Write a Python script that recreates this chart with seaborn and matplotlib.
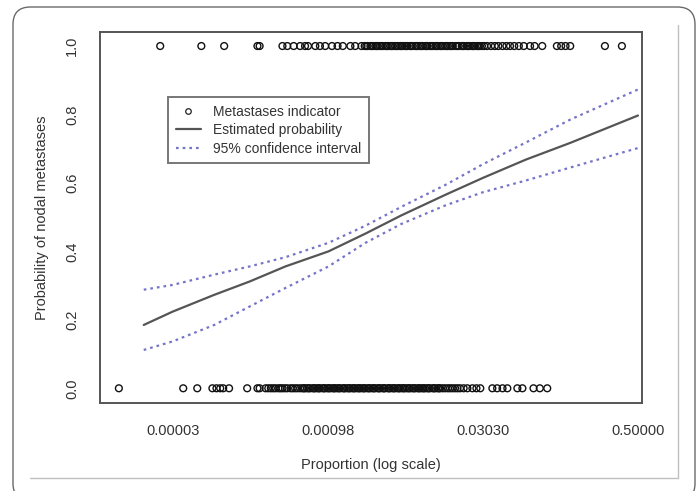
# Logistic fit of nodal metastases vs proportion (logit-scaled x axis)

import pandas as pd
import numpy as np
import matplotlib
matplotlib.use('Agg')
import matplotlib.pyplot as plt
from matplotlib.lines import Line2D
from matplotlib.patches import FancyBboxPatch
from matplotlib.ticker import NullLocator, FixedLocator, FixedFormatter
import seaborn as sns

# observed proportions, metastases = 0
absent = [9.0e-6, 3.8e-5, 5.2e-5, 7.3e-5, 8.0e-5, 8.7e-5, 9.3e-5, 1.06e-4, 1.59e-4, 2.0e-4, 2.1e-4,
          2.4e-4, 2.55e-4, 2.7e-4, 2.85e-4, 3.0e-4, 3.2e-4, 3.35e-4, 3.5e-4, 3.7e-4, 3.9e-4, 4.2e-4,
          4.4e-4, 4.65e-4, 4.9e-4, 5.2e-4, 5.5e-4, 5.8e-4, 6.1e-4, 6.5e-4, 6.9e-4, 7.3e-4, 7.7e-4,
          8.1e-4, 8.6e-4, 9.1e-4, 9.6e-4, 1.02e-3, 1.08e-3, 1.14e-3, 1.2e-3, 1.27e-3, 1.35e-3,
          1.42e-3, 1.5e-3, 1.59e-3, 1.68e-3, 1.78e-3, 1.88e-3, 1.99e-3, 2.1e-3, 2.22e-3, 2.35e-3,
          2.49e-3, 2.63e-3, 2.78e-3, 2.95e-3, 3.11e-3, 3.3e-3, 3.47e-3, 3.7e-3, 3.88e-3, 4.1e-3,
          4.34e-3, 4.6e-3, 4.85e-3, 5.1e-3, 5.42e-3, 5.7e-3, 6.06e-3, 6.4e-3, 6.8e-3, 7.2e-3,
          7.6e-3, 8.0e-3, 8.45e-3, 8.9e-3, 9.4e-3, 0.0100, 0.0106, 0.0112, 0.0118, 0.0125,
          0.0132, 0.0140, 0.0147, 0.0155, 0.0164, 0.0173, 0.0183,
          5.65e-4, 6.3e-4, 7.1e-4, 7.9e-4, 8.85e-4, 9.9e-4, 1.11e-3, 1.24e-3, 1.39e-3, 1.55e-3,
          1.73e-3, 1.94e-3, 2.16e-3, 2.42e-3, 2.7e-3, 3.03e-3, 3.38e-3, 3.79e-3, 4.22e-3, 4.72e-3,
          5.25e-3, 5.9e-3, 6.6e-3, 7.4e-3, 8.2e-3, 9.15e-3, 0.0103, 0.0115,
          0.0198, 0.0215, 0.0240, 0.0262, 0.0285,
          0.037, 0.041, 0.046, 0.051,
          0.063, 0.070,
          0.088, 0.100,
          0.116]

# observed proportions, metastases = 1
present = [2.27e-5, 5.7e-5, 9.5e-5, 2.0e-4, 2.1e-4,
           3.5e-4, 3.9e-4, 4.5e-4, 5.2e-4, 5.8e-4, 6.2e-4,
           7.3e-4, 8.1e-4, 9.1e-4, 1.06e-3, 1.2e-3, 1.35e-3,
           1.6e-3, 1.78e-3, 2.05e-3, 2.2e-3, 2.35e-3, 2.5e-3, 2.65e-3, 2.8e-3, 2.95e-3, 3.1e-3,
           3.3e-3, 3.5e-3, 3.7e-3, 3.9e-3, 4.1e-3, 4.35e-3, 4.6e-3, 4.85e-3, 5.1e-3, 5.4e-3,
           5.7e-3, 6.05e-3, 6.4e-3, 6.8e-3, 7.2e-3, 7.6e-3, 8.0e-3, 8.5e-3, 8.9e-3, 9.4e-3,
           0.0100, 0.0106, 0.0112, 0.0118, 0.0125, 0.0132, 0.0140, 0.0147, 0.0156, 0.0166,
           0.0178, 0.0190, 0.0200, 0.0212, 0.0225, 0.0238, 0.0250, 0.0265, 0.0280, 0.0295, 0.031,
           2.28e-3, 2.58e-3, 2.88e-3, 3.2e-3, 3.6e-3, 4.0e-3, 4.48e-3, 4.98e-3, 5.55e-3, 6.2e-3,
           7.0e-3, 7.8e-3, 8.7e-3, 9.7e-3, 0.0109, 0.0121, 0.0136, 0.0151, 0.0172, 0.0195,
           0.0218, 0.0244, 0.0272,
           0.033, 0.036, 0.039, 0.042, 0.046, 0.050, 0.054,
           0.059, 0.065, 0.072,
           0.082, 0.090, 0.105,
           0.140, 0.152, 0.165, 0.180,
           0.323, 0.411]

# fitted curve and 95% CI
fit_x = [1.57e-5, 3.0e-5, 7.6e-5, 1.68e-4, 3.74e-4, 9.8e-4, 2.24e-3, 4.97e-3, 0.0134, 0.0303, 0.075, 0.180, 0.5]
fit_est = [0.185, 0.224, 0.273, 0.312, 0.356, 0.400, 0.452, 0.505, 0.566, 0.615, 0.668, 0.717, 0.797]
fit_upper = [0.288, 0.302, 0.332, 0.356, 0.383, 0.425, 0.475, 0.530, 0.595, 0.655, 0.718, 0.785, 0.873]
fit_lower = [0.112, 0.137, 0.185, 0.239, 0.293, 0.356, 0.425, 0.480, 0.535, 0.573, 0.607, 0.645, 0.702]

tick_vals = [0.00003, 0.00098, 0.03030, 0.50000]
tick_labels = ['0.00003', '0.00098', '0.03030', '0.50000']

obs = pd.DataFrame({
    'proportion': absent + present,
    'metastases': [0] * len(absent) + [1] * len(present),
})
fit = pd.DataFrame({'proportion': fit_x, 'est': fit_est, 'upper': fit_upper, 'lower': fit_lower})

sns.set_style('white')
plt.rcParams['font.family'] = ['Liberation Sans', 'DejaVu Sans']

txt = '#333333'
ci_col = '#7474c8'

fig = plt.figure(figsize=(6.99, 4.91), dpi=100)
ax = fig.add_axes([100 / 699, 1 - 403 / 491, 542 / 699, 371 / 491])

sns.scatterplot(data=obs, x='proportion', y='metastases', ax=ax, marker='o', s=24,
                color='black', linewidth=1.0, legend=False, zorder=3)
ax.collections[0].set_facecolor('none')
ax.collections[0].set_edgecolor('#111111')

sns.lineplot(data=fit, x='proportion', y='est', ax=ax, color='#555555', linewidth=1.6)
sns.lineplot(data=fit, x='proportion', y='upper', ax=ax, color=ci_col, linewidth=1.6,
             linestyle=(0, (1.2, 1.8)))
sns.lineplot(data=fit, x='proportion', y='lower', ax=ax, color=ci_col, linewidth=1.6,
             linestyle=(0, (1.2, 1.8)))

ax.set_xscale('logit')
ax.set_xlim(5.9e-6, 0.5225)
ax.set_ylim(-0.043, 1.041)
ax.xaxis.set_major_locator(FixedLocator(tick_vals))
ax.xaxis.set_major_formatter(FixedFormatter(tick_labels))
ax.xaxis.set_minor_locator(NullLocator())
ax.set_yticks([0.0, 0.2, 0.4, 0.6, 0.8, 1.0])
ax.set_yticklabels(['0.0', '0.2', '0.4', '0.6', '0.8', '1.0'], rotation=90, va='center')

ax.tick_params(axis='both', direction='out', length=5, width=1.0, color='#444444',
               labelsize=10.5, labelcolor=txt)
ax.tick_params(axis='x', pad=10)
ax.tick_params(axis='y', pad=10)
ax.grid(False)
for sp in ax.spines.values():
    sp.set_color('#555555')
    sp.set_linewidth(1.4)

ax.set_xlabel('Proportion (log scale)', fontsize=10.5, color=txt)
ax.set_ylabel('Probability of nodal metastases', fontsize=10.5, color=txt)
ax.xaxis.set_label_coords(0.5, (403 - 465) / 371)
ax.xaxis.label.set_va('center')
ax.yaxis.set_label_coords((42 - 100) / 542, 0.5)
ax.yaxis.label.set_va('center')

handles = [
    Line2D([], [], marker='o', linestyle='none', markersize=4, markerfacecolor='none',
           markeredgecolor='#222222', markeredgewidth=0.9),
    Line2D([], [], color='#555555', linewidth=1.6),
    Line2D([], [], color=ci_col, linewidth=1.6, linestyle=(0, (1.2, 1.8))),
]
leg = ax.legend(handles, ['Metastases indicator', 'Estimated probability', '95% confidence interval'],
                loc='upper left', bbox_to_anchor=((168 - 100) / 542, (403 - 97) / 371),
                fontsize=10, frameon=True, fancybox=False, borderpad=0.55, labelspacing=0.32,
                handlelength=1.8, handletextpad=0.9, borderaxespad=0)
leg.get_frame().set_edgecolor('#555555')
leg.get_frame().set_linewidth(1.4)
for t in leg.get_texts():
    t.set_color(txt)

# surrounding frame of the figure image
fig.patches.append(FancyBboxPatch((13 / 699, -0.02), 682 / 699, 1 - 7 / 491 + 0.02,
                                  boxstyle='round,pad=0,rounding_size=0.025',
                                  transform=fig.transFigure, fill=False,
                                  edgecolor='#6a6a6a', linewidth=1.0, mutation_aspect=699 / 491))
fig.lines.append(Line2D([30 / 699, 678 / 699], [1 - 478 / 491] * 2, transform=fig.transFigure,
                        color='#c0c0c0', linewidth=1.0))
fig.lines.append(Line2D([678 / 699] * 2, [1 - 478 / 491, 1 - 25 / 491], transform=fig.transFigure,
                        color='#c0c0c0', linewidth=1.0))

plt.savefig('out.png', dpi=100)
print("Figure save: out.png")
